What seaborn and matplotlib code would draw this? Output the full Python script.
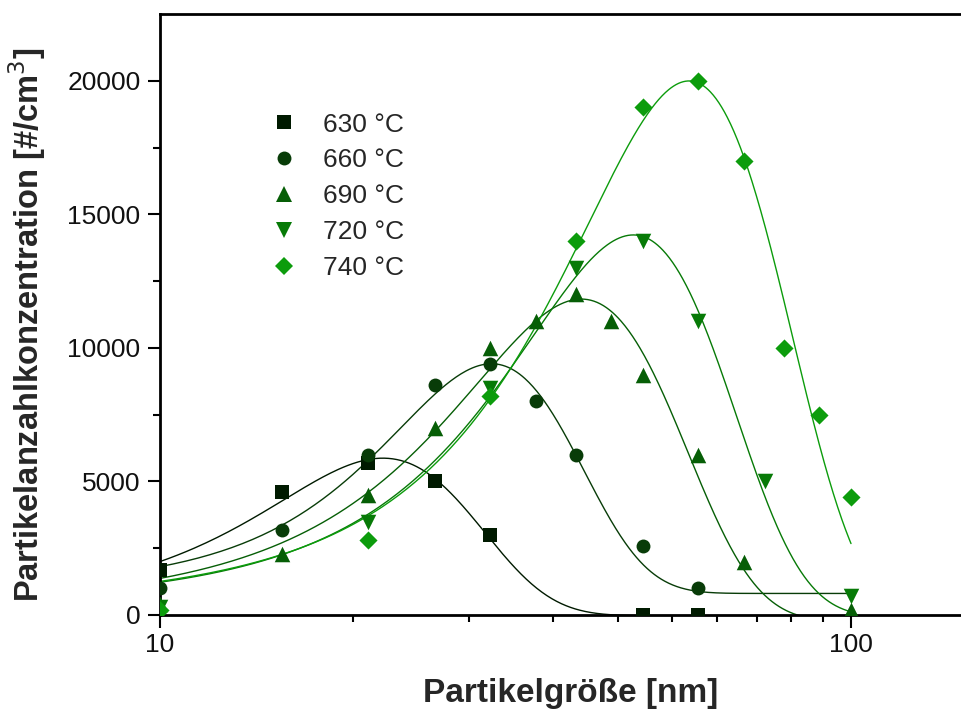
import numpy as np
import pandas as pd
import matplotlib
matplotlib.use("Agg")
import matplotlib.pyplot as plt
from matplotlib.lines import Line2D
from matplotlib.ticker import FixedLocator, NullFormatter
import seaborn as sns

# measured particle number concentrations per furnace temperature
x_630 = [10, 15, 20, 25, 30, 50, 60]
y_630 = [1700, 4600, 5700, 5000, 3000, 0, 0]

x_660 = [10, 15, 20, 25, 30, 35, 40, 50, 60]
y_660 = [1000, 3200, 6000, 8600, 9400, 8000, 6000, 2600, 1000]

x_690 = [10, 15, 20, 25, 30, 35, 40, 45, 50, 60, 70, 100]
y_690 = [400, 2300, 4500, 7000, 10000, 11000, 12000, 11000, 9000, 6000, 2000, 200]

x_720 = [10, 20, 30, 40, 50, 60, 75, 100]
y_720 = [300, 3500, 8500, 13000, 14000, 11000, 5000, 700]

x_740 = [10, 20, 30, 40, 50, 60, 70, 80, 90, 100]
y_740 = [200, 2800, 8200, 14000, 19000, 20000, 17000, 10000, 7500, 4400]

labels = ["630 °C", "660 °C", "690 °C", "720 °C", "740 °C"]
colors = ["#001a00", "#083c08", "#065e06", "#077a07", "#0c9c0c"]
markers = ["s", "o", "^", "v", "D"]
marker_area = [88, 100, 125, 125, 85]

series = [(x_630, y_630), (x_660, y_660), (x_690, y_690),
          (x_720, y_720), (x_740, y_740)]


def gauss(x, p):
    y0, a, xc, s = p
    return y0 + a * np.exp(-(x - xc) ** 2 / (2 * s ** 2))


def gauss_jac(x, p):
    y0, a, xc, s = p
    e = np.exp(-(x - xc) ** 2 / (2 * s ** 2))
    return np.column_stack([np.ones_like(x), e,
                            a * e * (x - xc) / s ** 2,
                            a * e * (x - xc) ** 2 / s ** 3])


def fit_gauss(x, y):
    """Levenberg-Marquardt least squares fit of a Gaussian peak with offset."""
    x = np.asarray(x, float)
    y = np.asarray(y, float)
    p = np.array([y.min(), y.max() - y.min(), x[np.argmax(y)], 10.0])
    lam = 1e-3
    sse = np.sum((y - gauss(x, p)) ** 2)
    for _ in range(2000):
        r = y - gauss(x, p)
        J = gauss_jac(x, p)
        A = J.T @ J
        g = J.T @ r
        step = np.linalg.solve(A + lam * np.diag(np.diag(A)), g)
        p_new = p + step
        sse_new = np.sum((y - gauss(x, p_new)) ** 2)
        if sse_new < sse:
            p, sse = p_new, sse_new
            lam = max(lam * 0.3, 1e-12)
        else:
            lam *= 10
        if lam > 1e12:
            break
    return p


sns.set_theme(style="white")
plt.rcParams["font.family"] = ["Liberation Sans", "DejaVu Sans"]

fig = plt.figure(figsize=(9.61, 7.15), dpi=100)
ax_left_px, ax_right_px = 160, 160 + 691 * np.log10(15)
ax_w_px = ax_right_px - ax_left_px
ax = fig.add_axes([ax_left_px / 961, 100 / 715, ax_w_px / 961, 601 / 715])
ax.set_facecolor("white")

ax.set_xscale("log")

grid = np.linspace(10, 100, 600)
for (xs, ys), lab, col, mk, area in zip(series, labels, colors, markers, marker_area):
    p = fit_gauss(xs, ys)
    curve = pd.DataFrame({"size": grid, "conc": gauss(grid, p)})
    sns.lineplot(data=curve, x="size", y="conc", color=col, linewidth=1.0,
                 ax=ax, zorder=2, legend=False)
    pts = pd.DataFrame({"size": xs, "conc": ys})
    sns.scatterplot(data=pts, x="size", y="conc", marker=mk, s=area, color=col,
                    edgecolor=col, linewidth=0, ax=ax, zorder=3, legend=False)

ax.set_xlim(10, 150)
ax.set_ylim(0, 22500)

# axis ticks
ax.xaxis.set_major_locator(FixedLocator([10, 100]))
ax.xaxis.set_minor_locator(FixedLocator([19, 28, 37, 46, 55, 64, 73, 82, 91]))
ax.xaxis.set_minor_formatter(NullFormatter())
ax.set_xticklabels(["10", "100"])
ax.yaxis.set_major_locator(FixedLocator([0, 5000, 10000, 15000, 20000]))
ax.yaxis.set_minor_locator(FixedLocator([2500, 7500, 12500, 17500]))
ax.set_yticklabels(["0", "5000", "10000", "15000", "20000"])

ax.tick_params(axis="both", which="major", direction="out", length=9,
               width=1.5, labelsize=19, color="black", labelcolor="#111111",
               bottom=True, left=True, top=False, right=False)
ax.tick_params(axis="both", which="minor", direction="out", length=5,
               width=1.5, color="black", bottom=True, left=True,
               top=False, right=False)
ax.tick_params(axis="x", which="major", pad=4)
ax.tick_params(axis="y", which="major", pad=5)

for side in ["left", "bottom", "top"]:
    ax.spines[side].set_visible(True)
    ax.spines[side].set_color("black")
    ax.spines[side].set_linewidth(2.0)
ax.spines["right"].set_visible(False)

ax.set_xlabel("Partikelgröße [nm]", fontsize=24, fontweight="bold")
ax.set_ylabel("Partikelanzahlkonzentration [#/cm$^3$]", fontsize=23.5,
              fontweight="bold")
ax.xaxis.set_label_coords((571 - ax_left_px) / ax_w_px, (615 - 678) / 601)
ax.yaxis.set_label_coords((48 - ax_left_px) / ax_w_px, (615 - 325) / 601)

handles = [Line2D([], [], linestyle="none", marker=mk, color=col,
                  markersize=np.sqrt(area), markeredgewidth=0)
           for mk, col, area in zip(markers, colors, marker_area)]
ax.legend(handles, labels, loc="upper left", frameon=False, fontsize=19,
          handlelength=1.0, handletextpad=1.0, labelspacing=0.45,
          borderaxespad=0, bbox_to_anchor=((260 - ax_left_px) / ax_w_px,
                                           (615 - 102) / 601))

fig.savefig("out.png", dpi=100, facecolor="white")
